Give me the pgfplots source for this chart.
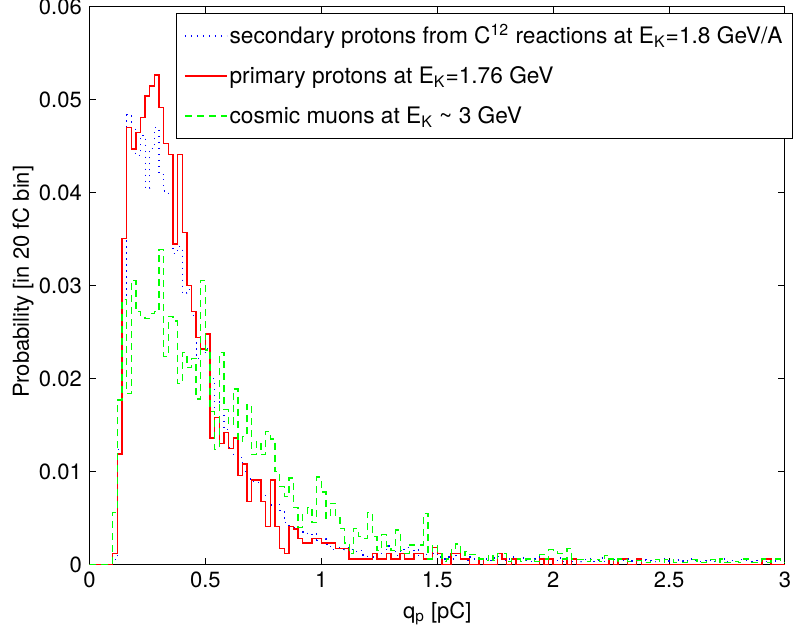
\documentclass[border=0pt]{standalone}
\usepackage{fontspec}
\setmainfont{TeX Gyre Heros}
\usepackage{pgfplots}
\pgfplotsset{compat=1.18}
\usepackage{pgfplotstable}

\pgfplotstableread{
x r b g
0.00 0 0 0
0.10 0.0012 0.0005 0.0056
0.12 0.0119 0.0124 0.0177
0.14 0.0351 0.0285 0.0285
0.16 0.0470 0.0484 0.0184
0.18 0.0447 0.0470 0.0306
0.20 0.0465 0.0440 0.0272
0.22 0.0481 0.0462 0.0267
0.24 0.0504 0.0405 0.0265
0.26 0.0515 0.0448 0.0270
0.28 0.0527 0.0470 0.0272
0.30 0.0492 0.0420 0.0339
0.32 0.0453 0.0402 0.0224
0.34 0.0441 0.0398 0.0267
0.36 0.0345 0.0335 0.0262
0.38 0.0441 0.0342 0.0195
0.40 0.0357 0.0292 0.0228
0.42 0.0300 0.0296 0.0212
0.44 0.0272 0.0268 0.0222
0.46 0.0244 0.0222 0.0178
0.48 0.0232 0.0228 0.0306
0.50 0.0248 0.0232 0.0231
0.52 0.0136 0.0200 0.0165
0.54 0.0158 0.0168 0.0124
0.56 0.0130 0.0175 0.0228
0.58 0.0142 0.0145 0.0167
0.60 0.0125 0.0126 0.0151
0.62 0.0136 0.0118 0.0189
0.64 0.0096 0.0115 0.0133
0.66 0.0108 0.0100 0.0138
0.68 0.0068 0.0092 0.0172
0.70 0.0091 0.0089 0.0118
0.72 0.0091 0.0088 0.0132
0.74 0.0068 0.0072 0.0118
0.76 0.0041 0.0076 0.0143
0.78 0.0091 0.0064 0.0135
0.80 0.0041 0.0066 0.0100
0.82 0.0017 0.0058 0.0084
0.84 0.0012 0.0045 0.0073
0.86 0.0041 0.0042 0.0093
0.88 0.0038 0.0040 0.0061
0.90 0.0028 0.0033 0.0040
0.92 0.0023 0.0035 0.0055
0.94 0.0023 0.0032 0.0061
0.96 0.0028 0.0033 0.0045
0.98 0.0028 0.0026 0.0094
1.00 0.0023 0.0028 0.0078
1.02 0.0023 0.0022 0.0050
1.04 0.0023 0.0016 0.0066
1.06 0.0017 0.0020 0.0050
1.08 0.0017 0.0016 0.0039
1.10 0.0017 0.0018 0.0023
1.12 0.0006 0.0016 0.0012
1.14 0.0006 0.0014 0.0039
1.16 0.0006 0.0015 0.0030
1.18 0.0006 0.0010 0.0028
1.20 0.0006 0.0005 0.0056
1.22 0.0012 0.0008 0.0030
1.24 0.0006 0.0015 0.0015
1.26 0.0006 0.0010 0.0032
1.28 0.0012 0.0020 0.0020
1.30 0.0006 0.0014 0.0015
1.32 0.0006 0.0010 0.0037
1.34 0.0012 0.0016 0.0015
1.36 0.0006 0.0018 0.0012
1.38 0.0006 0.0013 0.0021
1.40 0.0012 0.0016 0.0021
1.42 0.0012 0.0008 0.0021
1.44 0.0006 0.0011 0.0055
1.46 0.0006 0.0005 0.0006
1.48 0.0018 0.0012 0.0021
1.50 0.0012 0.0008 0.0012
1.52 0 0.0006 0.0003
1.54 0 0.0008 0.0006
1.56 0.0012 0.0006 0.0016
1.58 0.0012 0.0010 0.0022
1.60 0.0006 0.0006 0.0010
1.62 0.0006 0.0004 0.0014
1.64 0 0.0008 0.0011
1.66 0 0.0005 0.0011
1.68 0.0006 0.0003 0.0006
1.70 0 0.0006 0.0004
1.72 0 0.0004 0.0010
1.74 0 0.0007 0.0004
1.76 0.0012 0.0009 0.0012
1.78 0.0006 0.0004 0.0012
1.80 0 0.0006 0.0003
1.82 0.0006 0.0008 0.0006
1.84 0 0.0003 0.0006
1.86 0 0.0007 0.0003
1.88 0 0.0004 0.0006
1.90 0 0.0003 0.0005
1.92 0 0.0006 0.0003
1.94 0.0006 0.0008 0.0011
1.96 0 0.0005 0.0006
1.98 0.0006 0.0003 0.0016
2.00 0 0.0004 0.0015
2.02 0 0.0007 0.0012
2.04 0.0006 0.0003 0.0006
2.06 0 0.0005 0.0017
2.08 0.0006 0.0003 0.0006
2.10 0 0.0004 0.0005
2.12 0 0.0003 0.0005
2.14 0 0.0006 0.0003
2.16 0 0.0003 0.0005
2.18 0 0.0004 0.0005
2.20 0 0.0007 0.0003
2.22 0 0.0003 0.0010
2.24 0.0006 0.0004 0.0006
2.26 0 0.0005 0.0003
2.28 0.0006 0.0003 0.0006
2.30 0.0006 0.0004 0.0005
2.32 0 0.0006 0.0003
2.34 0 0.0003 0.0004
2.36 0.0006 0.0004 0.0004
2.38 0 0.0003 0.0002
2.40 0 0.0005 0.0002
2.42 0 0.0004 0.0005
2.44 0 0.0003 0.0005
2.46 0 0.0006 0.0002
2.48 0 0.0004 0.0005
2.50 0 0.0003 0.0005
2.52 0 0.0005 0.0002
2.54 0 0.0004 0.0002
2.56 0 0.0003 0.0002
2.58 0 0.0006 0.0005
2.60 0 0.0004 0.0005
2.62 0 0.0003 0.0002
2.64 0 0.0004 0.0002
2.66 0 0.0005 0.0005
2.68 0 0.0003 0.0005
2.70 0 0.0004 0.0002
2.72 0 0.0006 0.0006
2.74 0 0.0003 0.0002
2.76 0 0.0004 0.0002
2.78 0 0.0003 0.0003
2.80 0 0.0005 0.0002
2.82 0 0.0004 0.0006
2.84 0 0.0003 0.0002
2.86 0 0.0004 0.0002
2.88 0 0.0005 0.0002
2.90 0.0006 0.0003 0.0006
2.92 0.0006 0.0004 0.0002
2.94 0 0.0003 0.0006
2.96 0 0.0005 0.0006
2.98 0 0.0004 0.0002
3.00 0 0.0004 0.0002
}\histdata

\begin{document}
\fontsize{11}{13}\selectfont
\begin{tikzpicture}
\begin{axis}[
  name=ax,
  scale only axis,
  width=347.75pt, height=278.75pt,
  xmin=0, xmax=3, ymin=0, ymax=0.06,
  xtick={0,0.5,1,1.5,2,2.5,3},
  xticklabels={0,0.5,1,1.5,2,2.5,3},
  ytick={0,0.01,0.02,0.03,0.04,0.05,0.06},
  yticklabels={0,0.01,0.02,0.03,0.04,0.05,0.06},
  /pgf/number format/assume math mode=true,
  tick align=inside,
  major tick length=3.4pt,
  minor tick num=0,
  axis line style={black, line width=0.5pt},
  tick style={black, line width=0.5pt},
  every tick label/.append style={font=\fontsize{11}{13}\selectfont},
  xlabel={q\textsubscript{p} [pC]},
  ylabel={Probability [in 20 fC bin]},
  label style={font=\fontsize{11}{13}\selectfont},
  xlabel style={at={(axis description cs:0.5,-0.0879)}, anchor=center},
  ylabel style={at={(axis description cs:-0.0956,0.507)}, anchor=center},
  legend image code/.code={\draw[#1] (0pt,0pt) -- (21pt,0pt);},
  legend cell align=left,
  legend style={
    at={(rel axis cs:1,1)}, anchor=north east, xshift=4pt, yshift=-2.85pt,
    draw=black, fill=white, line width=0.5pt,
    font=\fontsize{11.35}{13}\selectfont,
    inner xsep=4pt, inner ysep=3.65pt,
    row sep=4.5pt,
    nodes={inner sep=1pt, text height=10.5pt, text depth=3pt},
  },
]
\addplot[const plot, mark=none, draw=blue, line width=0.6pt, dash pattern=on 0.6pt off 2.4pt] table[x=x, y=b] {\histdata};
\addlegendentry{secondary protons from C\textsuperscript{12} reactions at E\textsubscript{K}=1.8 GeV/A}
\addplot[const plot, mark=none, draw=red, line width=0.7pt] table[x=x, y=r] {\histdata};
\addlegendentry{primary protons at E\textsubscript{K}=1.76 GeV}
\addplot[const plot, mark=none, draw=green, line width=0.65pt, dash pattern=on 3.5pt off 2.5pt] table[x=x, y=g] {\histdata};
\addlegendentry{cosmic muons at E\textsubscript{K} \textasciitilde{} 3 GeV}
\end{axis}
\pgfresetboundingbox
\path[use as bounding box] ([shift={(-44.75pt,-34.75pt)}]ax.south west) rectangle ([shift={(4.5pt,3.5pt)}]ax.north east);
\end{tikzpicture}
\end{document}
